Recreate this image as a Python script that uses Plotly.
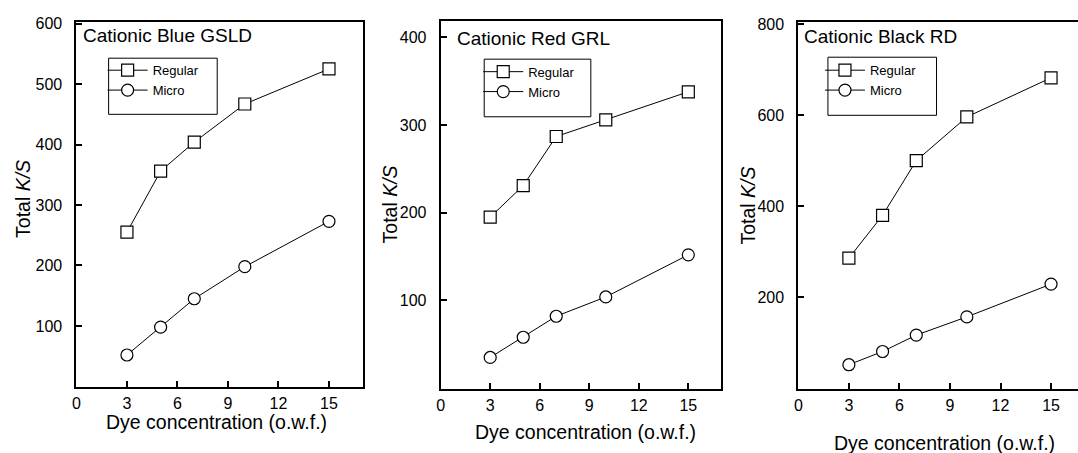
import plotly.graph_objects as go

# ---------------- data ----------------
x_conc = [3, 5, 7, 10, 15]
blue_regular = [255, 356, 404, 467, 525]
blue_micro = [52, 98, 145, 198, 273]
red_regular = [195, 231, 287, 306, 338]
red_micro = [35, 58, 82, 104, 152]
black_regular = [286, 380, 500, 596, 682]
black_micro = [52, 81, 117, 157, 229]

panel_titles = ["Cationic Blue GSLD", "Cationic Red GRL", "Cationic Black RD"]
series_names = ["Regular", "Micro"]
x_tick_vals = [0, 3, 6, 9, 12, 15]
y_tick_vals = [[100, 200, 300, 400, 500, 600],
               [100, 200, 300, 400],
               [200, 400, 600, 800]]
x_title = "Dye concentration (o.w.f.)"
y_title = "Total <i>K/S</i>"

# ---------------- layout geometry (pixels) ----------------
W, H = 1078, 453
FONT = "Liberation Sans, Arial, Helvetica, sans-serif"

def px(x):
    return x / W

def py(y):
    return 1 - y / H

panels = [
    dict(l=72.7, r=360, t=15, b=386, xr=[0, 17], yr=[-1, 603],
         reg=blue_regular, mic=blue_micro,
         title_xy=(77, 29), leg_xy=(99, 49), box=(105, 52, 214, 109),
         xt_xy=(213, 422), yt_xy=(19, 195), mirror_y=True),
    dict(l=438.3, r=720, t=14, b=388, xr=[0, 17], yr=[-1, 419],
         reg=red_regular, mic=red_micro,
         title_xy=(453, 32), leg_xy=(476, 50.5), box=(482, 53, 589, 111.5),
         xt_xy=(584, 432), yt_xy=(387, 201), mirror_y=True),
    dict(l=797.3, r=1078, t=15, b=388.3, xr=[0, 16.6], yr=[-2, 805],
         reg=black_regular, mic=black_micro,
         title_xy=(801, 30), leg_xy=(819, 49), box=(827, 51, 936, 110),
         xt_xy=(944, 443), yt_xy=(747, 201.5), mirror_y=False),
]

fig = go.Figure()
annotations = []
shapes = []
layout_updates = {}

for i, p in enumerate(panels):
    n = "" if i == 0 else str(i + 1)
    leg = "legend" + n
    xa, ya = "x" + n, "y" + n
    for name, vals, sym in [(series_names[0], p["reg"], "square"),
                            (series_names[1], p["mic"], "circle")]:
        fig.add_trace(go.Scatter(
            x=x_conc, y=vals, name=name, mode="lines+markers",
            xaxis=xa, yaxis=ya, legend=leg,
            line=dict(color="black", width=1),
            marker=dict(symbol=sym, size=12, color="white",
                        line=dict(color="black", width=1.2)),
            cliponaxis=False,
        ))
    axis_common = dict(showgrid=False, zeroline=False, showline=True,
                       linecolor="black", linewidth=2, ticks="inside",
                       ticklen=6, tickwidth=1.5, tickcolor="black",
                       tickfont=dict(family=FONT, size=16, color="black"))
    layout_updates["xaxis" + n] = dict(
        axis_common, domain=[px(p["l"]), px(p["r"])], range=p["xr"],
        anchor=ya, tickvals=x_tick_vals, mirror=True,
        ticklabelstandoff=1)
    layout_updates["yaxis" + n] = dict(
        axis_common, domain=[py(p["b"]), py(p["t"])], range=p["yr"],
        anchor=xa, tickvals=y_tick_vals[i], mirror=p["mirror_y"],
        ticklabelstandoff=9)
    layout_updates[leg] = dict(
        x=px(p["leg_xy"][0]), y=py(p["leg_xy"][1]),
        xanchor="left", yanchor="top",
        bgcolor="rgba(0,0,0,0)", borderwidth=0,
        font=dict(family=FONT, size=13, color="black"),
        tracegroupgap=0, itemwidth=40)
    bx0, by0, bx1, by1 = p["box"]
    shapes.append(dict(
        type="rect", xref="paper", yref="paper",
        x0=px(bx0), x1=px(bx1), y0=py(by1), y1=py(by0),
        line=dict(color="black", width=1), fillcolor="white", layer="below"))
    annotations.append(dict(
        text=panel_titles[i], x=px(p["title_xy"][0]), y=py(p["title_xy"][1]),
        xref="paper", yref="paper", xanchor="left", yanchor="middle",
        showarrow=False, font=dict(family=FONT, size=19, color="black")))
    annotations.append(dict(
        text=x_title, x=px(p["xt_xy"][0]), y=py(p["xt_xy"][1]),
        xref="paper", yref="paper", xanchor="center", yanchor="middle",
        showarrow=False, font=dict(family=FONT, size=19.5, color="black")))
    annotations.append(dict(
        text=y_title, x=px(p["yt_xy"][0]), y=py(p["yt_xy"][1]),
        xref="paper", yref="paper", xanchor="center", yanchor="middle",
        textangle=-90, showarrow=False,
        font=dict(family=FONT, size=19.5, color="black")))

fig.update_layout(
    width=W, height=H,
    margin=dict(l=0, r=0, t=0, b=0),
    paper_bgcolor="white", plot_bgcolor="white",
    showlegend=True,
    annotations=annotations,
    shapes=shapes,
    **layout_updates,
)

fig.write_html("out.html")
